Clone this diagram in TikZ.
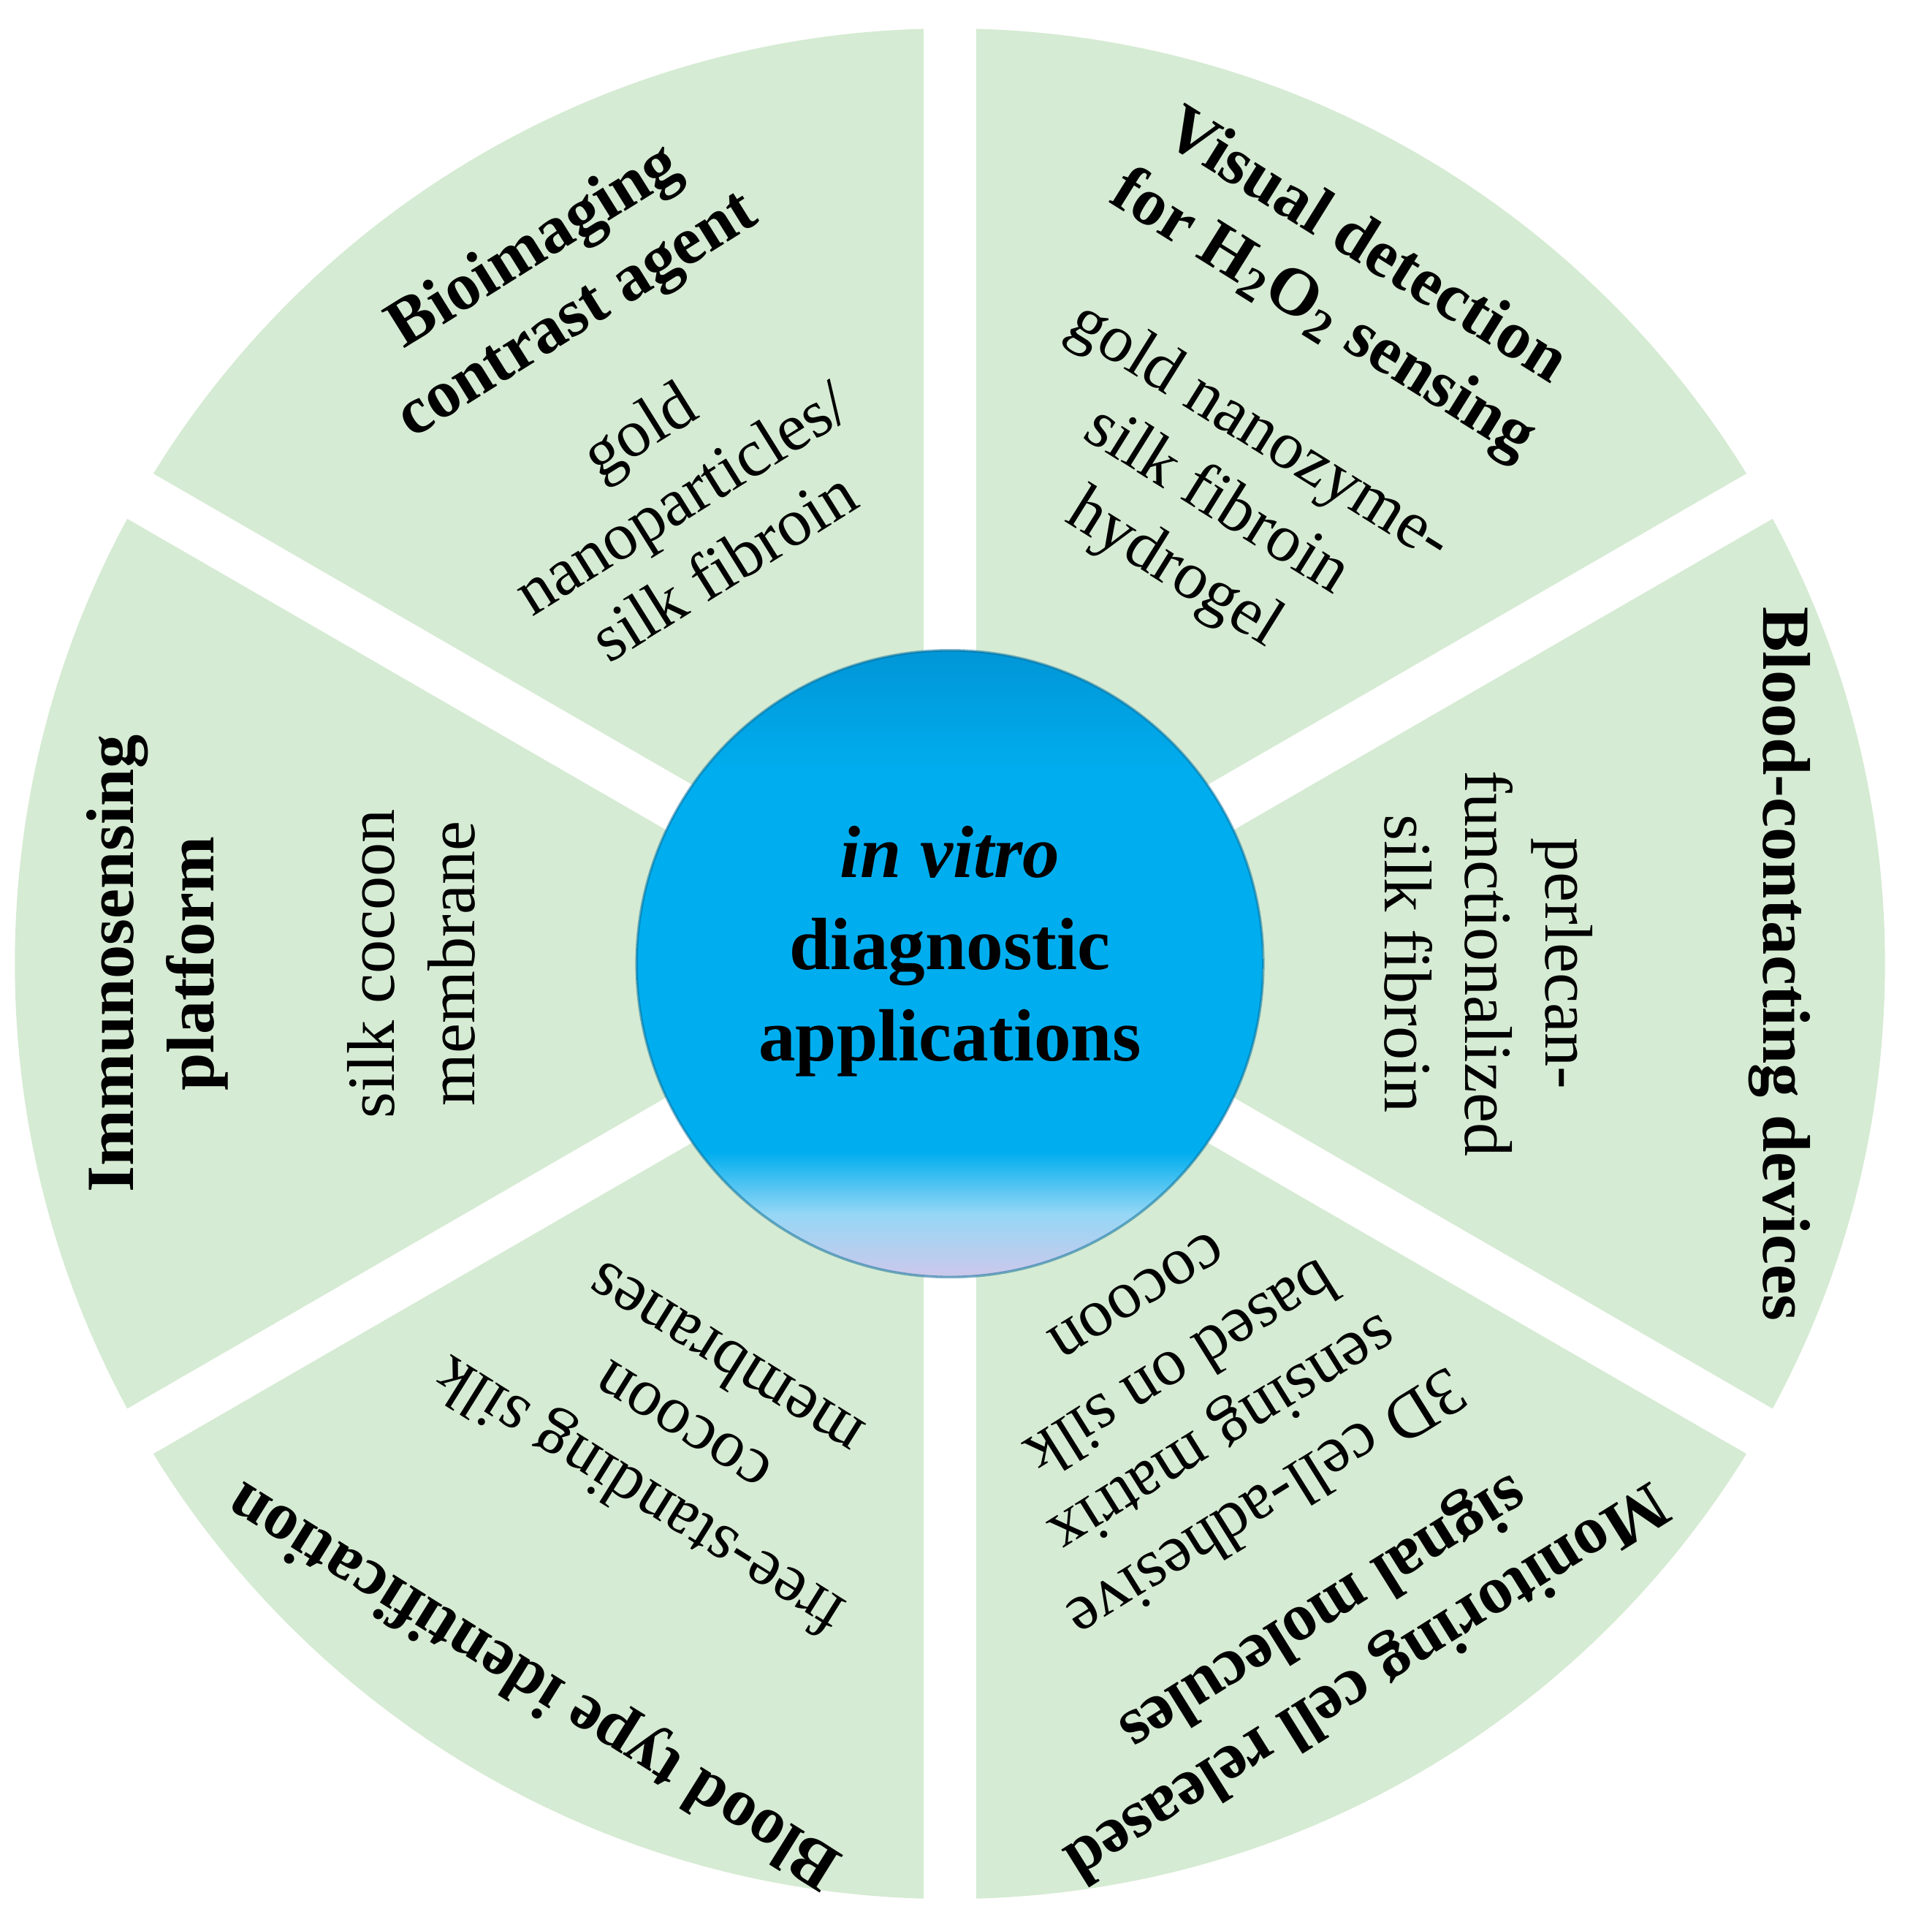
\documentclass[tikz,border=0pt]{standalone}
\usepackage{fontspec}
\setmainfont{Liberation Serif}
\definecolor{lav}{RGB}{205,200,235}
\definecolor{lblue}{RGB}{150,215,245}
\definecolor{cyb}{RGB}{0,174,239}
\definecolor{cyt}{RGB}{0,150,215}
\definecolor{sect}{RGB}{213,235,211}
\pgfdeclareverticalshading{ballsh}{100bp}{
  color(0bp)=(lav); color(25bp)=(lav); color(30bp)=(lblue); color(35bp)=(cyb);
  color(65bp)=(cyb); color(75bp)=(cyt); color(100bp)=(cyt)}
\tikzset{
  title/.style={font=\fontsize{15.5}{18.5}\selectfont\bfseries, align=center, inner sep=0pt},
  body/.style={font=\fontsize{15.5}{18.5}\selectfont, align=center, inner sep=0pt},
  gap/.style={white, line width=0.42cm}
}
\begin{document}
\begin{tikzpicture}
\useasboundingbox (0,0) rectangle (15.6,15.56);
\begin{scope}[shift={(7.67,7.78)}]
\fill[sect] (0,0) circle (7.55);
\foreach \a in {90,30,150} \draw[gap] (\a:8) -- (\a+180:8);
\shade[shading=ballsh] (0,0) circle (2.53);
\draw[cyt!70!black, line width=0.6pt, opacity=0.5] (0,0) circle (2.53);
\node[title, font=\fontsize{17}{21}\selectfont\bfseries] (center) at (0,0.1) {\textit{in vitro}\\diagnostic\\applications};
% top-left
\node[title, rotate=32] (t1) at (120:6.35) {Bioimaging\\contrast agent};
\node[body, rotate=32] (b1) at (120:4.35) {gold\\nanoparticles/\\silk fibroin};
% top-right
\node[title, rotate=-32] (t2) at (60:6.35) {Visual detection\\for H\textsubscript{2}O\textsubscript{2} sensing};
\node[body, rotate=-32] (b2) at (60:4.3) {gold nanozyme-\\silk fibroin\\hydrogel};
% right
\node[title, rotate=-90] (t3) at (0:6.7) {Blood-contacting devices};
\node[body, rotate=-90] (b3) at (0:4.35) {perlecan-\\functionalized\\silk fibroin};
% bottom-right
\node[title, rotate=212] (t4) at (300:6.35) {Monitoring cell released\\signal molecules};
\node[body, rotate=212] (b4) at (300:4.1) {3D cell-adhesive\\sensing matrix\\based on silk\\cocoon};
% bottom-left
\node[title, rotate=148] (t5) at (240:6.7) {Blood type identification};
\node[body, rotate=148] (b5) at (240:4.35) {free-standing silk\\cocoon\\membranes};
% left
\node[title, rotate=90] (t6) at (180:6.4) {Immunosensing\\platform};
\node[body, rotate=90] (b6) at (180:4.35) {silk cocoon\\membrane};
\end{scope}
\end{tikzpicture}
\end{document}
